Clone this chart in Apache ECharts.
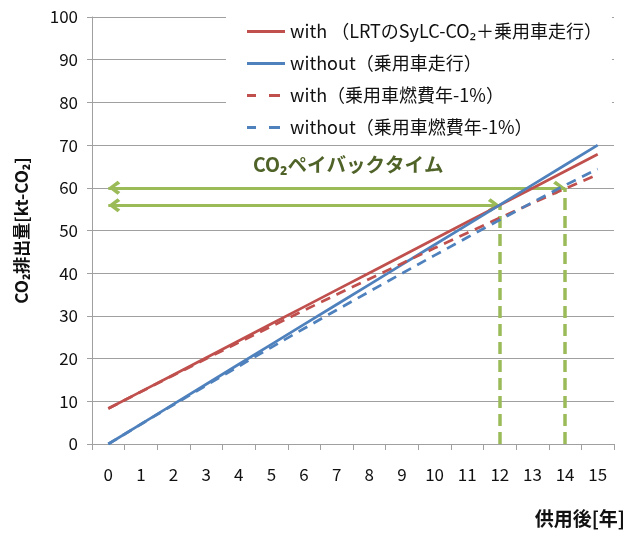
<!DOCTYPE html>
<html>
<head>
<meta charset="utf-8">
<script src="https://cdn.jsdelivr.net/npm/echarts@6/dist/echarts.min.js"></script>
<style>
html,body{margin:0;padding:0;background:#fff;}
#c{width:632px;height:536px;}
</style>
</head>
<body>
<div id="c"></div>
<script>
const years = ['0','1','2','3','4','5','6','7','8','9','10','11','12','13','14','15'];
const withLRT = [8.3, 12.27, 16.24, 20.21, 24.18, 28.15, 32.12, 36.09, 40.06, 44.03, 48.0, 51.97, 55.94, 59.91, 63.88, 67.85];
const withoutLRT = [0, 4.67, 9.33, 14.0, 18.67, 23.33, 28.0, 32.67, 37.33, 42.0, 46.67, 51.33, 56.0, 60.67, 65.33, 70.0];
const withFuel = [8.3, 12.23, 16.12, 19.97, 23.79, 27.56, 31.3, 35.0, 38.66, 42.29, 45.88, 49.43, 52.95, 56.4, 59.8, 63.1];
const withoutFuel = [0, 4.62, 9.19, 13.72, 18.21, 22.64, 27.04, 31.39, 35.69, 39.96, 44.18, 48.36, 52.49, 56.59, 60.6, 64.4];
const seriesNames = ['with （LRTのSyLC-CO₂＋乗用車走行）','without（乗用車走行）','with（乗用車燃費年-1%）','without（乗用車燃費年-1%）'];
const paybackYears = [12, 14];
const paybackLevels = [55.9, 60];
const arrowStart = 0;

const RED = '#C0504D', BLUE = '#4F81BD', GREEN = '#9BBB59';
const FONT = '"Noto Sans CJK JP", "Noto Sans", sans-serif';
// chevron with its tip at the centre of the bounding box
const chev = 'path://M10,0 L20,12 L16,15.5 L10,7 L4,15.5 L0,12 Z M10,-15.5 L10.01,-15.5 L10,-15.49 Z';
const solidIcon = 'path://M0,0 L38,0 L38,3 L0,3 Z';
const dashIcon = 'path://M0,0 L9,0 L9,3 L0,3 Z M22,0 L33,0 L33,3 L22,3 Z M38,0 L38,3 L37.99,3 Z';

const chart = echarts.init(document.getElementById('c'), null, {renderer:'canvas'});

const greenLines = [];
for (let i = 0; i < paybackYears.length; i++) {
  greenLines.push([
    {coord:[arrowStart, paybackLevels[i]], symbol: chev, symbolSize:[14,24], lineStyle:{color:GREEN, width:3, type:'solid'}},
    {coord:[paybackYears[i], paybackLevels[i]], symbol: chev, symbolSize:[14,24]}
  ]);
  greenLines.push([
    {coord:[paybackYears[i], 0], symbol:'none', lineStyle:{color:GREEN, width:3.5, type:[12,6]}},
    {coord:[paybackYears[i], paybackLevels[i]], symbol:'none'}
  ]);
}

function lineSeries(name, data, color, dashed, extra) {
  return Object.assign({
    name: name, type:'line', data: data, symbol:'none', showSymbol:false,
    lineStyle:{color:color, width:2.75, type: dashed ? [10,7] : 'solid'},
    itemStyle:{color:color},
    z: 3
  }, extra || {});
}

chart.setOption({
  animation:false,
  backgroundColor:'#fff',
  textStyle:{fontFamily:FONT},
  grid:{left:92, right:18, top:17, bottom:92},
  legend:{
    data: [
      {name: seriesNames[0], icon: solidIcon},
      {name: seriesNames[1], icon: solidIcon},
      {name: seriesNames[2], icon: dashIcon},
      {name: seriesNames[3], icon: dashIcon}
    ],
    orient:'vertical',
    left:226, top:15,
    padding:[6,10,6,21],
    backgroundColor:'#fff',
    itemWidth:38, itemHeight:3, itemGap:11,
    symbolKeepAspect:false,
    textStyle:{fontFamily:FONT, fontSize:18, color:'#111', lineHeight:21},
    z: 10
  },
  xAxis:{
    type:'category', data: years, boundaryGap:true,
    axisLine:{lineStyle:{color:'#a0a0a0', width:1}},
    axisTick:{show:true, length:6, lineStyle:{color:'#a0a0a0'}},
    axisLabel:{fontFamily:FONT, fontSize:17, color:'#111', margin:22},
    splitLine:{show:false}
  },
  yAxis:{
    type:'value', min:0, max:100, interval:10,
    name:'CO₂排出量[kt-CO₂]', nameLocation:'middle', nameRotate:90, nameGap:62,
    nameTextStyle:{fontFamily:FONT, fontSize:17, fontWeight:'bold', color:'#111'},
    axisLine:{show:true, lineStyle:{color:'#a0a0a0', width:1}},
    axisTick:{show:true, length:5, lineStyle:{color:'#a0a0a0'}},
    axisLabel:{fontFamily:FONT, fontSize:17, color:'#111', margin:14},
    splitLine:{lineStyle:{color:'#a0a0a0', width:1}}
  },
  series:[
    lineSeries(seriesNames[0], withLRT, RED, false, {
      markLine:{silent:true, animation:false, label:{show:false}, data: greenLines, z: 2}
    }),
    lineSeries(seriesNames[1], withoutLRT, BLUE, false),
    lineSeries(seriesNames[2], withFuel, RED, true),
    lineSeries(seriesNames[3], withoutFuel, BLUE, true)
  ],
  graphic:[
    {type:'text', left:253, top:155, z:20,
     style:{text:'CO₂ペイバックタイム', fontFamily:FONT, fontSize:19.5, fontWeight:'bold', fill:'#4F6228'}},
    {type:'text', right:7, top:509, z:20,
     style:{text:'供用後[年]', fontFamily:FONT, fontSize:19, fontWeight:'bold', fill:'#111'}}
  ]
});
</script>
</body>
</html>
